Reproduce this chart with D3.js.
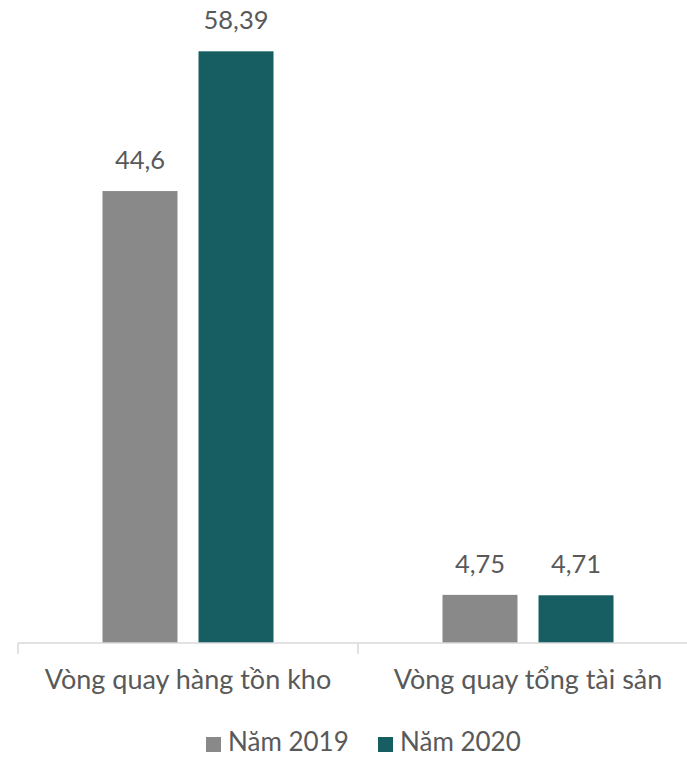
<!DOCTYPE html>
<html><head><meta charset="utf-8">
<script src="https://cdn.jsdelivr.net/npm/d3@7/dist/d3.min.js"></script>
<style>body{margin:0;background:#fff}svg{display:block}</style>
</head><body>
<svg id="c" width="687" height="758"></svg>
<script>
const categories = ["Vòng quay hàng tồn kho", "Vòng quay tổng tài sản"];
const seriesNames = ["Năm 2019", "Năm 2020"];
const values2019 = [44.6, 4.75];
const values2020 = [58.39, 4.71];
const colors = ["#898989", "#175e63"];
const font = "Lato, 'Open Sans', sans-serif";

const svg = d3.select("#c");
const x0 = d3.scaleBand().domain(categories).range([18, 698]);
const x1 = d3.scaleBand().domain(seriesNames).range([84.5, 255.5]).paddingInner(0.219);
const y = d3.scaleLinear().domain([0, 60]).range([643, 35]);
const fmt = v => String(v).replace(".", ",");

const data = categories.map((c, i) => ({c, vals: [values2019[i], values2020[i]]}));

const g = svg.append("g");
data.forEach(d => {
  d.vals.forEach((v, j) => {
    const bx = x0(d.c) + x1(seriesNames[j]);
    g.append("rect").attr("x", bx).attr("y", y(v)).attr("width", x1.bandwidth())
      .attr("height", y(0) - y(v)).attr("fill", colors[j]);
    g.append("text").attr("x", bx + x1.bandwidth() / 2).attr("y", y(v) - 22)
      .attr("text-anchor", "middle").attr("font-family", font).attr("font-size", 25.5)
      .attr("fill", "#595959").text(fmt(v));
  });
});

// axis
const ag = svg.append("g").attr("transform", "translate(0,643)");
ag.append("line").attr("x1", 18).attr("x2", 687).attr("stroke", "#d9d9d9").attr("stroke-width", 1.5);
[18, 358].forEach(t => ag.append("line").attr("x1", t).attr("x2", t).attr("y1", 0).attr("y2", 11)
  .attr("stroke", "#d9d9d9").attr("stroke-width", 1.5));
categories.forEach(c => {
  ag.append("text").attr("x", x0(c) + x0.bandwidth() / 2).attr("y", 46)
    .attr("text-anchor", "middle").attr("font-family", font).attr("font-size", 27)
    .attr("fill", "#595959").text(c);
});

// legend
const legX = [206, 378];
seriesNames.forEach((s, j) => {
  svg.append("rect").attr("x", legX[j]).attr("y", 737).attr("width", 15).attr("height", 15).attr("fill", colors[j]);
  svg.append("text").attr("x", legX[j] + 22).attr("y", 751).attr("font-family", font)
    .attr("font-size", 26).attr("fill", "#595959").text(s);
});
</script>
</body></html>
